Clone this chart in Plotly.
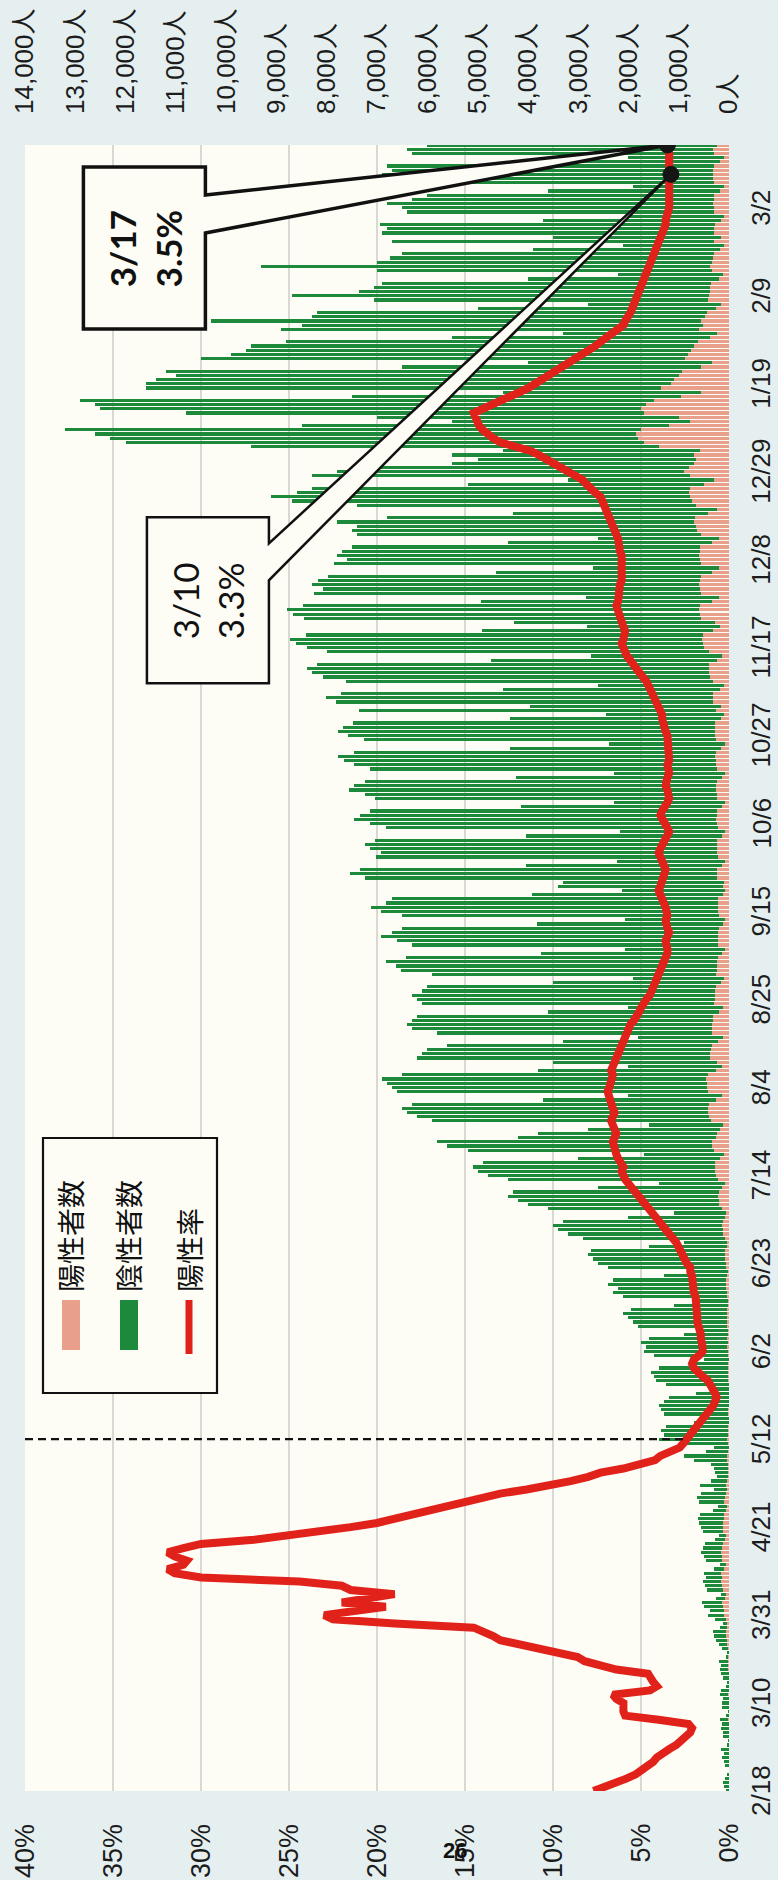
import plotly.graph_objects as go
import pandas as pd

# ---------------- data (daily, 2020-02-18 .. 2021-03-17) ----------------
dates = pd.date_range("2020-02-18", "2021-03-17", freq="D").strftime("%Y-%m-%d").tolist()

# 陽性者数 (one row = one week, Tue..Mon)
positive = [
    5, 8, 6, 4, 2, 1, 5,
    6, 9, 5, 10, 3, 1, 7,
    8, 10, 9, 12, 3, 1, 8,
    9, 7, 12, 10, 4, 2, 8,
    10, 15, 18, 25, 12, 8, 20,
    30, 40, 50, 60, 40, 30, 50,
    90, 100, 120, 130, 80, 50, 110,
    140, 150, 140, 150, 90, 60, 140,
    140, 150, 130, 120, 70, 50, 120,
    110, 110, 100, 90, 60, 40, 90,
    80, 60, 30, 60, 35, 25, 25,
    20, 20, 30, 30, 15, 10, 25,
    30, 25, 20, 18, 10, 7, 15,
    12, 10, 10, 10, 6, 5, 10,
    12, 15, 18, 20, 12, 8, 18,
    25, 30, 28, 30, 18, 12, 30,
    35, 40, 38, 40, 25, 15, 40,
    45, 50, 52, 50, 30, 20, 55,
    65, 70, 75, 75, 45, 30, 80,
    110, 120, 130, 125, 80, 50, 140,
    190, 200, 210, 200, 130, 80, 220,
    250, 270, 280, 270, 170, 100, 290,
    330, 340, 250, 230, 180, 110, 360,
    400, 410, 420, 400, 250, 140, 420,
    430, 440, 450, 420, 260, 140, 240,
    380, 370, 360, 340, 210, 120, 340,
    330, 330, 320, 310, 190, 110, 300,
    280, 280, 270, 260, 160, 90, 250,
    230, 230, 230, 220, 130, 75, 210,
    210, 215, 210, 200, 120, 70, 205,
    220, 225, 215, 210, 125, 70, 110,
    100, 230, 235, 230, 135, 75, 220,
    230, 235, 240, 230, 135, 75, 225,
    240, 250, 245, 240, 140, 80, 235,
    245, 255, 250, 245, 145, 80, 240,
    260, 265, 270, 260, 150, 85, 250,
    270, 280, 275, 270, 160, 90, 265,
    150, 310, 320, 310, 185, 105, 320,
    370, 390, 400, 390, 235, 135, 390,
    500, 520, 530, 510, 310, 175, 270,
    560, 580, 590, 570, 340, 190, 560,
    570, 590, 580, 565, 340, 195, 560,
    570, 590, 585, 570, 345, 200, 565,
    640, 660, 690, 670, 410, 240, 660,
    740, 770, 800, 780, 490, 300, 780,
    900, 800, 700, 650, 700, 580, 1400,
    1700, 1800, 1850, 1750, 1200, 780, 1000,
    1700, 1750, 1650, 1500, 950, 560, 1350,
    1150, 1100, 1000, 930, 560, 340, 880,
    820, 760, 700, 620, 380, 230, 590,
    520, 560, 470, 430, 260, 150, 420,
    400, 380, 370, 350, 200, 115, 340,
    370, 340, 320, 300, 175, 100, 300,
    150, 300, 290, 275, 160, 95, 290,
    300, 310, 300, 290, 170, 100, 295,
    310, 320, 310, 300, 175, 105, 300,
    310, 240,
]

# 陰性者数
negative = [
    55, 82, 114, 76, 28, 9, 65,
    94, 121, 85, 140, 37, 19, 103,
    112, 150, 131, 158, 47, 19, 122,
    131, 103, 168, 140, 56, 28, 112,
    140, 155, 142, 165, 48, 32, 120,
    170, 210, 250, 260, 140, 90, 230,
    330, 280, 380, 410, 170, 100, 320,
    340, 370, 320, 350, 210, 120, 310,
    360, 410, 390, 360, 210, 150, 400,
    450, 490, 520, 490, 260, 180, 510,
    560, 500, 270, 520, 315, 215, 255,
    280, 330, 670, 870, 435, 290, 975,
    1370, 1275, 1330, 1232, 690, 443, 1285,
    1338, 1390, 1290, 1190, 644, 395, 1240,
    1438, 1485, 1532, 1380, 788, 492, 1482,
    1675, 1620, 1722, 1570, 882, 588, 1770,
    1865, 1960, 2062, 1910, 1075, 685, 2060,
    2255, 2150, 2348, 2250, 1270, 780, 2345,
    2535, 2630, 2725, 2675, 1555, 870, 2820,
    3090, 3280, 3370, 3175, 1920, 1050, 3460,
    3810, 4000, 4190, 4100, 2470, 1320, 4180,
    4550, 4730, 4820, 4630, 2830, 1600, 4910,
    5270, 5460, 3950, 3570, 2620, 1490, 5540,
    5800, 5990, 6080, 5900, 3450, 1860, 6180,
    6270, 6360, 6450, 6080, 3540, 1860, 3260,
    5820, 5730, 5640, 5260, 3090, 1680, 5460,
    5970, 6070, 5980, 5890, 3410, 1890, 5800,
    5920, 6020, 5830, 5740, 3340, 1810, 5650,
    6300, 6400, 6600, 6200, 3600, 2000, 6100,
    6400, 6700, 6500, 6300, 3700, 2000, 6300,
    6700, 6900, 6600, 6500, 3800, 2050, 3300,
    3200, 7000, 7300, 7100, 3900, 2150, 6800,
    6700, 6900, 7000, 6800, 3900, 2100, 6600,
    6900, 7200, 7100, 6900, 4000, 2200, 6800,
    7000, 7300, 7200, 7000, 4100, 2200, 6900,
    7200, 7400, 7500, 7200, 4200, 2300, 7000,
    7300, 7500, 7400, 7200, 4200, 2350, 7100,
    3800, 7500, 7700, 7400, 4300, 2500, 7300,
    7700, 7900, 8000, 7800, 4500, 2600, 7600,
    7900, 8100, 8200, 7900, 4600, 2650, 4000,
    7900, 8100, 8200, 7900, 4600, 2650, 7700,
    7500, 7700, 7600, 7400, 4300, 2500, 7300,
    7030, 7210, 7115, 6930, 4055, 2400, 6835,
    6860, 6740, 7110, 6130, 3890, 2260, 6740,
    7960, 8330, 7800, 7520, 4710, 2900, 7520,
    6900, 6200, 4800, 4350, 4800, 3920, 8100,
    10300, 10500, 10750, 11450, 7300, 4720, 6000,
    9100, 10750, 10950, 11400, 6550, 3940, 10250,
    10450, 10300, 10000, 10270, 5940, 3660, 9620,
    9080, 8840, 8800, 8180, 5120, 3070, 8310,
    7980, 9740, 7830, 7770, 4740, 2650, 6630,
    8300, 6970, 6680, 6550, 3800, 2085, 6660,
    8930, 6660, 6430, 6200, 3725, 2000, 6400,
    3350, 6600, 6510, 6675, 3540, 1905, 6110,
    6200, 6490, 6000, 5710, 3430, 1800, 5905,
    6290, 6580, 6390, 6500, 3525, 1895, 6000,
    6090, 5760,
]

# 陽性率 (%)
rate = [
    7.7, 7.0, 6.4, 5.8, 5.3, 4.9, 4.6,
    4.3, 4.1, 3.8, 3.4, 3.0, 2.7, 2.4,
    2.2, 2.1, 2.3, 4.0, 5.9, 6.0, 6.0,
    6.0, 6.4, 6.6, 4.5, 4.1, 4.3, 4.5,
    4.6, 6.4, 7.5, 8.2, 8.6, 9.8, 11.0,
    12.2, 13.0, 13.4, 13.9, 14.5, 19.0, 22.5,
    23.0, 21.0, 19.5, 22.0, 20.5, 19.0, 21.5,
    22.0, 24.4, 30.0, 31.5, 31.9, 31.0, 30.8,
    31.5, 31.9, 31.0, 30.0, 27.0, 25.0, 23.5,
    21.5, 20.0, 19.0, 18.0, 17.0, 16.0, 15.0,
    14.0, 13.0, 11.5, 10.0, 9.0, 8.0, 7.3,
    6.0, 5.0, 4.2, 3.9, 3.3, 2.8, 2.6,
    2.4, 2.2, 2.0, 1.8, 1.6, 1.4, 1.2,
    1.0, 0.9, 0.8, 0.7, 0.8, 0.9, 1.0,
    1.2, 1.5, 1.8, 2.0, 2.1, 2.0, 1.7,
    1.5, 1.5, 1.6, 1.6, 1.6, 1.7, 1.7,
    1.8, 1.8, 1.8, 1.8, 1.9, 1.9, 1.9,
    2.0, 2.0, 2.0, 2.1, 2.1, 2.2, 2.2,
    2.4, 2.5, 2.6, 2.7, 2.8, 3.0, 3.2,
    3.4, 3.6, 3.8, 3.9, 4.1, 4.3, 4.5,
    4.8, 5.0, 5.2, 5.4, 5.6, 5.8, 5.9,
    6.0, 6.1, 6.0, 6.2, 6.3, 6.4, 6.5,
    6.5, 6.6, 6.5, 6.4, 6.5, 6.6, 6.7,
    6.6, 6.5, 6.6, 6.7, 6.8, 6.9, 6.9,
    6.8, 6.7, 6.6, 6.6, 6.7, 6.6, 6.5,
    6.4, 6.3, 6.3, 6.2, 6.0, 5.9, 5.8,
    5.7, 5.6, 5.4, 5.2, 5.1, 5.0, 4.9,
    4.7, 4.5, 4.4, 4.3, 4.1, 4.0, 3.9,
    3.8, 3.7, 3.6, 3.6, 3.5, 3.5, 3.6,
    3.6, 3.5, 3.4, 3.5, 3.6, 3.6, 3.5,
    3.5, 3.6, 3.7, 3.8, 3.9, 4.0, 3.9,
    3.8, 3.8, 3.7, 3.6, 3.7, 3.8, 3.9,
    4.0, 3.9, 3.8, 3.6, 3.5, 3.4, 3.5,
    3.6, 3.8, 3.9, 3.8, 3.6, 3.5, 3.4,
    3.4, 3.5, 3.6, 3.6, 3.5, 3.4, 3.5,
    3.5, 3.4, 3.4, 3.5, 3.5, 3.5, 3.5,
    3.5, 3.6, 3.7, 3.7, 3.8, 3.8, 3.9,
    4.0, 4.1, 4.2, 4.3, 4.4, 4.5, 4.7,
    4.9, 5.1, 5.3, 5.5, 5.7, 5.8, 5.9,
    6.0, 6.1, 6.0, 5.9, 5.9, 6.0, 6.1,
    6.2, 6.3, 6.4, 6.4, 6.3, 6.3, 6.2,
    6.2, 6.2, 6.1, 6.1, 6.0, 6.0, 6.0,
    6.1, 6.1, 6.2, 6.2, 6.3, 6.3, 6.4,
    6.5, 6.6, 6.6, 6.7, 6.8, 6.9, 7.0,
    7.2, 7.3, 7.6, 7.9, 8.1, 8.3, 8.7,
    9.0, 9.4, 9.8, 10.3, 10.8, 11.3, 12.1,
    13.0, 13.4, 13.8, 14.0, 14.2, 14.3, 14.4,
    14.5, 14.0, 13.4, 13.0, 12.3, 11.9, 11.4,
    11.0, 10.6, 10.2, 9.8, 9.4, 9.0, 8.6,
    8.3, 7.9, 7.6, 7.3, 7.0, 6.6, 6.3,
    6.0, 5.9, 5.7, 5.6, 5.5, 5.4, 5.3,
    5.2, 5.1, 5.0, 4.9, 4.8, 4.7, 4.7,
    4.6, 4.4, 4.3, 4.2, 4.1, 4.0, 3.9,
    3.8, 3.8, 3.7, 3.6, 3.6, 3.5, 3.5,
    3.4, 3.4, 3.4, 3.4, 3.35, 3.3, 3.3,
    3.3, 3.3, 3.3, 3.3, 3.4, 3.4, 3.4,
    3.5, 3.5,
]

assert len(positive) == len(negative) == len(rate) == len(dates), (len(positive), len(negative), len(rate), len(dates))

date_tick_vals = ["2020-02-18", "2020-03-10", "2020-03-31", "2020-04-21", "2020-05-12",
                  "2020-06-02", "2020-06-23", "2020-07-14", "2020-08-04", "2020-08-25",
                  "2020-09-15", "2020-10-06", "2020-10-27", "2020-11-17", "2020-12-08",
                  "2020-12-29", "2021-01-19", "2021-02-09", "2021-03-02"]
date_tick_text = ["2/18", "3/10", "3/31", "4/21", "5/12", "6/2", "6/23", "7/14", "8/4",
                  "8/25", "9/15", "10/6", "10/27", "11/17", "12/8", "12/29", "1/19", "2/9", "3/2"]
pct_tick_vals = [0, 5, 10, 15, 20, 25, 30, 35, 40]
pct_tick_text = ["0%", "5%", "10%", "15%", "20%", "25%", "30%", "35%", "40%"]
people_tick_vals = [0, 1000, 2000, 3000, 4000, 5000, 6000, 7000, 8000, 9000,
                    10000, 11000, 12000, 13000, 14000]
people_tick_text = ["0人", "1,000人", "2,000人", "3,000人", "4,000人", "5,000人", "6,000人",
                    "7,000人", "8,000人", "9,000人", "10,000人", "11,000人", "12,000人",
                    "13,000人", "14,000人"]
legend_labels = ["陽性者数", "陰性者数", "陽性率"]
callout_dates = ["2021-03-17", "2021-03-10"]
callout_labels = ["3/17", "3/10"]
marker_date = "2020-05-12"
page_number = "26"

# ---------------- style ----------------
C_POS = "#e8a08b"
C_NEG = "#1c8a3a"
C_RATE = "#e1221b"
PLOT_BG = "#fdfdf6"
PAGE_BG = "#e5eff0"
TXT = "#1c1c1c"
TICK_FONT = "Liberation Sans, Noto Sans CJK JP, sans-serif"
JP_FONT = "Noto Sans CJK JP, sans-serif"

W, H = 778, 1880
L, R, T, B = 25, 49, 145, 89
PW, PH = W - L - R, H - T - B


def px(x, y):
    """pixel position on page -> paper coordinates"""
    return (x - L) / PW, (H - B - y) / PH


DAY_MS = 86400000
BAR_W = 0.76 * DAY_MS

fig = go.Figure()
fig.add_trace(go.Bar(y=dates, x=positive, orientation="h", name=legend_labels[0],
                     marker=dict(color=C_POS, line_width=0), width=BAR_W,
                     xaxis="x", yaxis="y"))
fig.add_trace(go.Bar(y=dates, x=negative, orientation="h", name=legend_labels[1],
                     marker=dict(color=C_NEG, line_width=0), width=BAR_W,
                     xaxis="x", yaxis="y"))
fig.add_trace(go.Scatter(y=dates, x=rate, mode="lines", name=legend_labels[2],
                         line=dict(color=C_RATE, width=8), xaxis="x2", yaxis="y"))

fig.update_layout(
    width=W, height=H,
    margin=dict(l=L, r=R, t=T, b=B, pad=0),
    paper_bgcolor=PAGE_BG, plot_bgcolor=PLOT_BG,
    barmode="stack", bargap=0, showlegend=False,
    font=dict(family=TICK_FONT, color=TXT),
    xaxis=dict(range=[14000, 0], side="top", tickmode="array",
               tickvals=people_tick_vals, ticktext=people_tick_text, tickangle=-90,
               showgrid=False, zeroline=False, showline=False, ticks="",
               ticklabelstandoff=30, automargin=False,
               tickfont=dict(family=TICK_FONT, size=26, color=TXT)),
    xaxis2=dict(range=[40, 0], overlaying="x", side="bottom", anchor="y",
                tickmode="array", tickvals=pct_tick_vals, showticklabels=False,
                showgrid=True, gridcolor="#d8d8d4", gridwidth=1.5,
                zeroline=False, showline=False, ticks="", automargin=False),
    yaxis=dict(type="date", range=[dates[0], dates[-1]], side="right",
               showticklabels=False, showgrid=False, zeroline=False, showline=False,
               ticks="", automargin=False),
)

shapes = []
annotations = []

# percent axis labels (rotated, ends aligned just under the plot)
_, y_pct = px(0, 1822)
for v, t in zip(pct_tick_vals, pct_tick_text):
    annotations.append(dict(xref="x2", yref="paper", x=v, y=y_pct, text=t,
                            showarrow=False, textangle=-90, xanchor="center",
                            yanchor="top",
                            font=dict(family=TICK_FONT, size=27, color=TXT)))

# date axis labels (rotated, right of the plot)
x_date, _ = px(761, 0)
for v, t in zip(date_tick_vals, date_tick_text):
    annotations.append(dict(xref="paper", yref="y", x=x_date, y=v, text=t,
                            showarrow=False, textangle=-90, xanchor="center",
                            yanchor="middle",
                            font=dict(family=TICK_FONT, size=26, color=TXT)))

# dashed reference line at 5/12
shapes.append(dict(type="line", xref="x2", yref="y", x0=40,
                   x1=rate[dates.index(marker_date)], y0=marker_date, y1=marker_date,
                   line=dict(color="#111", width=2.2, dash="8px,5px"), layer="above"))

# callouts (pixel geometry relative to the data point)
callout_geo = [
    dict(path="M -584,-22 L -462,-22 L -462,-50 L 0,0 L -462,-88 L -462,-184 L -584,-184 Z",
         lw=3.5, xshift=-522, yshift=-103, bold=True),
    dict(path="M -524,-343 L -402,-343 L -402,-369 L 0,0 L -402,-406 L -402,-509 L -524,-509 Z",
         lw=2.5, xshift=-463, yshift=-426, bold=False),
]
for d, lab, g in zip(callout_dates, callout_labels, callout_geo):
    v = rate[dates.index(d)]
    shapes.append(dict(type="path", xref="x2", yref="y", xsizemode="pixel",
                       ysizemode="pixel", xanchor=v, yanchor=d, path=g["path"],
                       fillcolor=PLOT_BG, line=dict(color="#111", width=g["lw"]),
                       layer="above"))
    txt = f"{lab}<br>{v:.1f}%"
    if g["bold"]:
        txt = f"<b>{lab}</b><br><b>{v:.1f}%</b>"
    annotations.append(dict(xref="x2", yref="y", x=v, y=d, xshift=g["xshift"],
                            yshift=g["yshift"], text=txt, showarrow=False,
                            textangle=-90, xanchor="center", yanchor="middle",
                            font=dict(family="Lato, Liberation Sans, sans-serif",
                                      size=35, color="#111")))
for d in callout_dates:
    v = rate[dates.index(d)]
    shapes.append(dict(type="circle", xref="x2", yref="y", xsizemode="pixel",
                       ysizemode="pixel", xanchor=v, yanchor=d, x0=-8, x1=8, y0=-8, y1=8,
                       fillcolor="#151515", line=dict(color="#151515", width=1),
                       layer="above"))

# legend (drawn rotated, like the reference)
x0, y0 = px(43, 1393)
x1, y1 = px(217, 1138)
shapes.append(dict(type="rect", xref="paper", yref="paper", x0=x0, y0=y0, x1=x1, y1=y1,
                   fillcolor=PLOT_BG, line=dict(color="#111", width=2.2), layer="above"))
for cx, col in [(71, C_POS), (129, C_NEG)]:
    a0, b0 = px(cx - 9, 1350)
    a1, b1 = px(cx + 9, 1300)
    shapes.append(dict(type="rect", xref="paper", yref="paper", x0=a0, y0=b0, x1=a1, y1=b1,
                       fillcolor=col, line=dict(width=0), layer="above"))
a0, b0 = px(189, 1354)
a1, b1 = px(189, 1300)
shapes.append(dict(type="line", xref="paper", yref="paper", x0=a0, y0=b0, x1=a1, y1=b1,
                   line=dict(color=C_RATE, width=7), layer="above"))
for cx, lab in zip([70, 128, 189], legend_labels):
    ax_, ay_ = px(cx, 1294)
    annotations.append(dict(xref="paper", yref="paper", x=ax_, y=ay_, text=lab,
                            showarrow=False, textangle=-90, xanchor="center",
                            yanchor="bottom",
                            font=dict(family=JP_FONT, size=28, color="#111")))

# page number printed over the axis labels
pnx, pny = px(455, 1850)
annotations.append(dict(xref="paper", yref="paper", x=pnx, y=pny, text=f"<b>{page_number}</b>",
                        showarrow=False, xanchor="center", yanchor="middle",
                        font=dict(family="Liberation Sans, sans-serif", size=22, color="#111")))

fig.update_layout(shapes=shapes, annotations=annotations)
fig.write_html(
    "out.html",
    config={"displayModeBar": False, "staticPlot": True},
    post_script="document.body.style.margin='0';document.body.style.padding='0';"
                "document.body.style.overflow='hidden';"
                "document.documentElement.style.overflow='hidden';",
)
